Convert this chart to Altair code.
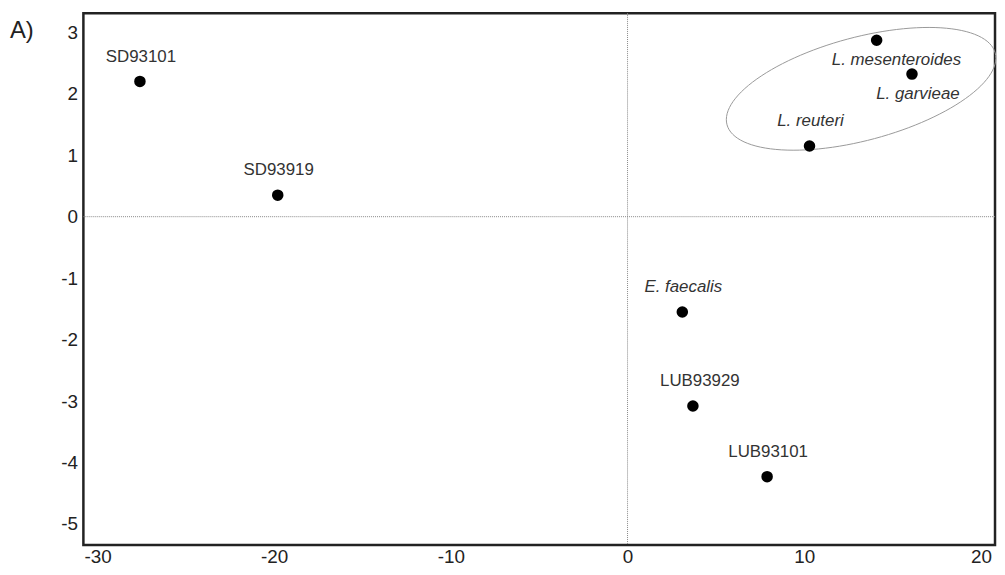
import altair as alt
import pandas as pd
import numpy as np

# ---- data ----
names = ["SD93101", "SD93919", "L. mesenteroides", "L. garvieae",
         "L. reuteri", "E. faecalis", "LUB93929", "LUB93101"]
pc1 = [-27.6, -19.8, 14.1, 16.1, 10.3, 3.1, 3.7, 7.9]
pc2 = [2.2, 0.35, 2.87, 2.32, 1.15, -1.55, -3.08, -4.23]
is_species = [False, False, True, True, True, True, False, False]
placement = ["above", "above", "below_right", "below",
             "above", "above", "above_right", "above"]

x_ticks = [-30, -20, -10, 0, 10, 20]
y_ticks = [-5, -4, -3, -2, -1, 0, 1, 2, 3]
x_domain = [-30.8, 20.8]
y_domain = [-5.34, 3.31]

# cluster ellipse (data units): centre and two conjugate half-axes
ell_center = [13.22, 2.08]
ell_u = [7.59, 0.584]
ell_v = [0.757, -0.81]

panel_label = "A)"

df = pd.DataFrame({"name": names, "pc1": pc1, "pc2": pc2,
                   "species": is_species, "place": placement})

t = np.linspace(0, 2 * np.pi, 121)
ell = pd.DataFrame({
    "pc1": ell_center[0] + ell_u[0] * np.cos(t) + ell_v[0] * np.sin(t),
    "pc2": ell_center[1] + ell_u[1] * np.cos(t) + ell_v[1] * np.sin(t),
    "order": np.arange(len(t)),
})

FONT = "Liberation Sans"
W, H = 919, 536

xs = alt.Scale(domain=x_domain, nice=False, zero=False)
ys = alt.Scale(domain=y_domain, nice=False, zero=False)

x_axis = alt.Axis(values=x_ticks, grid=False, ticks=False, domain=False,
                  labelFontSize=19, labelFont=FONT, labelColor="#222",
                  labelPadding=3, title=None, labelFlush=False,
                  labelExpr="'' + datum.value")
y_axis = alt.Axis(values=y_ticks, grid=False, ticks=False, domain=False,
                  labelFontSize=19, labelFont=FONT, labelColor="#222",
                  labelPadding=6, title=None, labelFlush=False,
                  labelExpr="'' + datum.value")

base = alt.Chart(df)

points = base.mark_point(filled=True, color="black", opacity=1, size=135,
                         shape="circle").encode(
    x=alt.X("pc1:Q", scale=xs, axis=x_axis),
    y=alt.Y("pc2:Q", scale=ys, axis=y_axis),
)

zero_df = pd.DataFrame({"z": [0]})
vline = alt.Chart(zero_df).mark_rule(color="#888", strokeWidth=1,
                                     strokeDash=[1, 1]).encode(
    x=alt.X("z:Q", scale=xs))
hline = alt.Chart(zero_df).mark_rule(color="#888", strokeWidth=1,
                                     strokeDash=[1, 1]).encode(
    y=alt.Y("z:Q", scale=ys))

ellipse = alt.Chart(ell).mark_line(color="#999", strokeWidth=1).encode(
    x=alt.X("pc1:Q", scale=xs),
    y=alt.Y("pc2:Q", scale=ys),
    order="order:Q",
)

placements = {
    "above": dict(dx=1, dy=-25),
    "above_right": dict(dx=7, dy=-25),
    "below_right": dict(dx=20, dy=20),
    "below": dict(dx=6, dy=20),
}

label_layers = []
for pl, off in placements.items():
    for sp in (True, False):
        sub = base.transform_filter(
            (alt.datum.place == pl) & (alt.datum.species == sp))
        label_layers.append(
            sub.mark_text(font=FONT, fontSize=17, color="#333",
                          fontStyle="italic" if sp else "normal",
                          baseline="middle", align="center",
                          dx=off["dx"], dy=off["dy"]).encode(
                x=alt.X("pc1:Q", scale=xs),
                y=alt.Y("pc2:Q", scale=ys),
                text="name:N",
            )
        )

panel = alt.Chart(pd.DataFrame({"t": [panel_label]})).mark_text(
    font=FONT, fontSize=24, color="#222", align="left", baseline="middle"
).encode(x=alt.value(-74), y=alt.value(18), text="t:N")

chart = alt.layer(hline, vline, ellipse, points, *label_layers, panel).properties(
    width=W, height=H,
    padding={"left": 76, "top": 3, "right": 2, "bottom": 20},
    autosize=alt.AutoSizeParams(type="none"),
).configure_view(stroke="#222", strokeWidth=2.5)

chart.save("out.html", embed_options={"renderer": "svg", "actions": False})
